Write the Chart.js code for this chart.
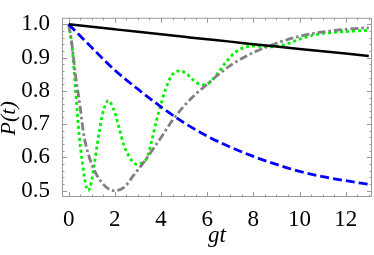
<!DOCTYPE html>
<html>
<head>
<meta charset="utf-8">
<script src="https://cdn.jsdelivr.net/npm/chart.js@4"></script>
<style>
html, body { margin: 0; padding: 0; background: #fff; }
</style>
</head>
<body>
<canvas id="grafica" width="374" height="255"></canvas>
<script>
// ticks
const xTicks = [0, 2, 4, 6, 8, 10, 12];
const yTicks = [0.5, 0.6, 0.7, 0.8, 0.9, 1.0];

// curva negra (solida)
const tBlack = [0, 1, 2, 3, 4, 5, 6, 7, 8, 9, 10, 11, 12, 13];
const pBlack = [1.0, 0.9925, 0.985, 0.9775, 0.970, 0.9625, 0.955, 0.948, 0.940, 0.933, 0.926, 0.919, 0.912, 0.905];

// curva azul (guiones)
const tBlue = [0, 1, 2, 3, 4, 5, 6, 7, 8, 9, 10, 11, 12, 13];
const pBlue = [1.0, 0.93, 0.862, 0.805, 0.752, 0.704, 0.664, 0.631, 0.603, 0.579, 0.558, 0.542, 0.530, 0.519];

// curva gris (guion-punto)
const tGray = [0, 0.15, 0.3, 0.5, 0.65, 0.85, 1.15, 1.5, 1.95, 2.4, 2.8, 3.25, 4, 4.5, 5, 5.5, 6, 6.5, 7, 7.5, 8, 9, 10, 11, 12, 13];
const pGray = [1.0, 0.935, 0.845, 0.75, 0.67, 0.61, 0.556, 0.519, 0.50, 0.51, 0.545, 0.585, 0.66, 0.712, 0.755, 0.79, 0.82, 0.85, 0.876, 0.897, 0.915, 0.943, 0.964, 0.977, 0.985, 0.99];

// curva verde (puntos)
const tGreen = [0, 0.15, 0.3, 0.45, 0.6, 0.72, 0.85, 0.98, 1.1, 1.25, 1.45, 1.6, 1.72, 1.85, 2.0, 2.2, 2.4, 2.6, 2.8, 2.95, 3.15, 3.4, 3.6, 3.8, 4.0, 4.2, 4.45, 4.8, 5.1, 5.4, 5.8, 6.1, 6.4, 6.8, 7.2, 7.6, 8.0, 8.7, 9.4, 10.1, 10.8, 11.5, 12.2, 13];
const pGreen = [1.0, 0.93, 0.80, 0.67, 0.58, 0.525, 0.50, 0.525, 0.575, 0.645, 0.724, 0.76, 0.771, 0.76, 0.735, 0.685, 0.635, 0.605, 0.585, 0.579, 0.583, 0.60, 0.65, 0.71, 0.76, 0.805, 0.845, 0.86, 0.852, 0.832, 0.818, 0.825, 0.848, 0.885, 0.915, 0.93, 0.935, 0.932, 0.94, 0.958, 0.97, 0.976, 0.979, 0.982];

const puntos = (t, p) => t.map((x, i) => ({ x: x, y: p[i] }));

// marco y marcas hacia adentro, como en Mathematica
const marco = {
    id: 'marco',
    beforeDatasetsDraw(chart) {
        const { ctx, chartArea: a, scales: { x, y } } = chart;
        ctx.save();
        ctx.strokeStyle = '#9a9a9a';
        ctx.lineWidth = 1;
        ctx.strokeRect(a.left + 0.5, a.top + 0.5, a.right - a.left - 1, a.bottom - a.top - 1);
        ctx.beginPath();
        for (let i = 0; i <= 26; i++) {
            const px = Math.round(x.getPixelForValue(i * 0.5)) + 0.5;
            const len = i % 4 === 0 ? 5 : 2.5;
            ctx.moveTo(px, a.bottom); ctx.lineTo(px, a.bottom - len);
            ctx.moveTo(px, a.top); ctx.lineTo(px, a.top + len);
        }
        for (let k = 25; k <= 50; k++) {
            const py = Math.round(y.getPixelForValue(k / 50)) + 0.5;
            const len = k % 5 === 0 ? 5 : 2.5;
            ctx.moveTo(a.left, py); ctx.lineTo(a.left + len, py);
            ctx.moveTo(a.right, py); ctx.lineTo(a.right - len, py);
        }
        ctx.stroke();
        ctx.restore();
    }
};

const ctx = document.getElementById('grafica').getContext('2d');
new Chart(ctx, {
    type: 'line',
    data: {
        datasets: [{
            data: puntos(tBlack, pBlack),
            borderColor: '#000000',
            borderWidth: 2.5
        }, {
            data: puntos(tBlue, pBlue),
            borderColor: '#0000ff',
            borderWidth: 2.8,
            borderDash: [9, 4]
        }, {
            data: puntos(tGray, pGray),
            borderColor: '#808080',
            borderWidth: 2.8,
            borderDash: [8, 3, 2.5, 3]
        }, {
            data: puntos(tGreen, pGreen),
            borderColor: '#00f000',
            borderWidth: 2.8,
            borderDash: [3, 3]
        }]
    },
    options: {
        responsive: false,
        animation: false,
        devicePixelRatio: 1,
        layout: { padding: { top: 5, right: 2, left: 0, bottom: 0 } },
        elements: {
            point: { radius: 0 },
            line: { cubicInterpolationMode: 'monotone', fill: false }
        },
        plugins: { legend: { display: false }, tooltip: { enabled: false } },
        scales: {
            x: {
                type: 'linear',
                min: -0.29,
                max: 13.14,
                grid: { display: false },
                border: { display: false },
                afterBuildTicks: s => { s.ticks = xTicks.map(v => ({ value: v })); },
                afterFit: s => { s.height = 58; },
                ticks: {
                    color: '#000',
                    padding: 1,
                    maxRotation: 0,
                    font: { family: 'Liberation Serif', size: 23 },
                    callback: v => String(v)
                },
                title: {
                    display: true,
                    text: 'gt',
                    color: '#000',
                    padding: { top: 0, bottom: 5 },
                    font: { family: 'Liberation Serif', size: 23, style: 'italic' }
                }
            },
            y: {
                min: 0.481,
                max: 1.0196,
                grid: { display: false },
                border: { display: false },
                afterBuildTicks: s => { s.ticks = yTicks.map(v => ({ value: v })); },
                afterFit: s => { s.width = 62; },
                ticks: {
                    color: '#000',
                    padding: 4,
                    font: { family: 'Liberation Serif', size: 23 },
                    callback: v => v.toFixed(1)
                },
                title: {
                    display: true,
                    text: 'P(t)    ',
                    color: '#000',
                    padding: 0,
                    font: { family: 'Liberation Serif', size: 22, style: 'italic', lineHeight: 0.8 }
                }
            }
        }
    },
    plugins: [marco]
});
</script>
</body>
</html>
